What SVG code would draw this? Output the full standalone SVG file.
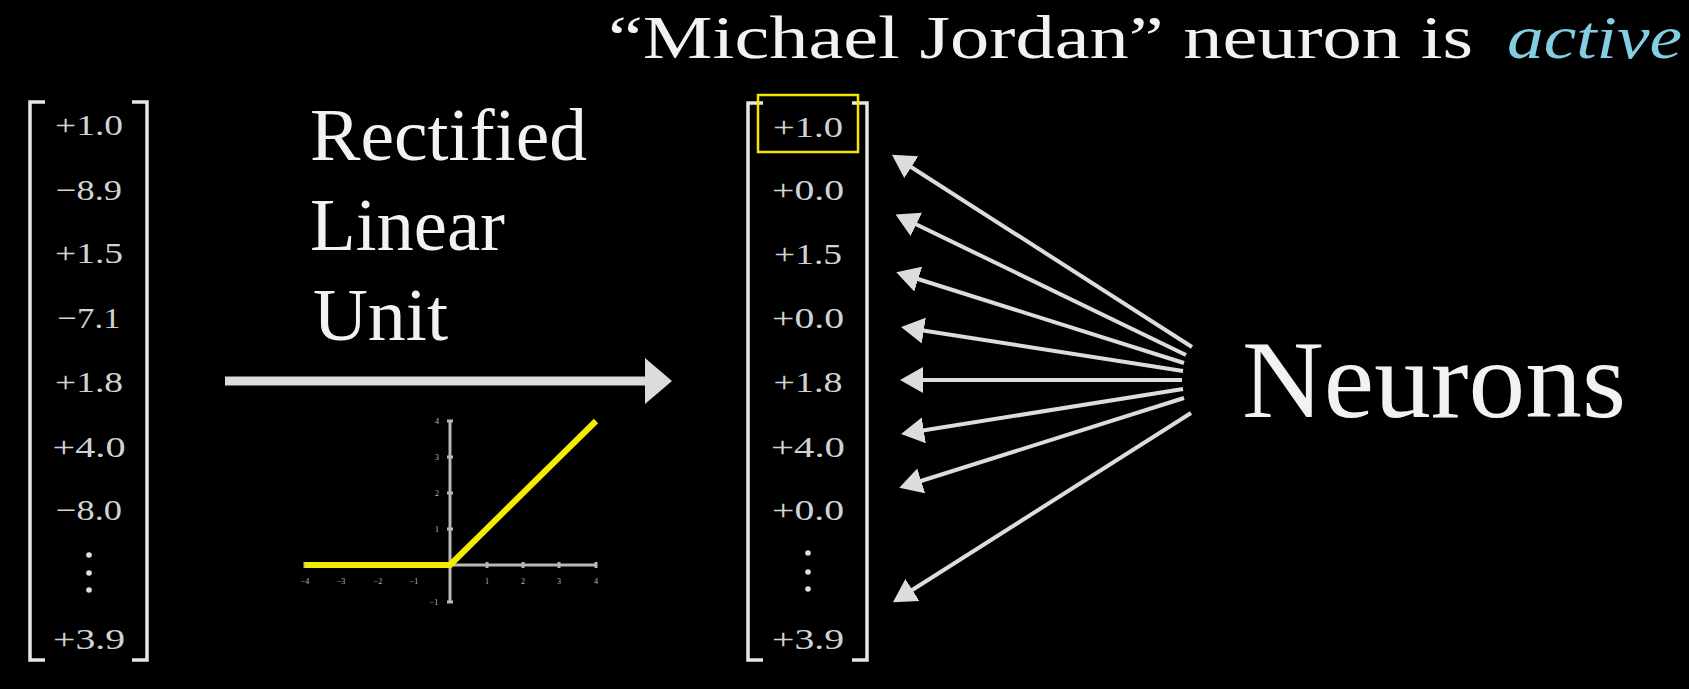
<svg xmlns="http://www.w3.org/2000/svg" width="1689" height="689" viewBox="0 0 1689 689">
<style>
.num{font-family:"Liberation Serif",serif;font-size:30px;fill:#d2d2d2;text-anchor:middle}
.brk{fill:none;stroke:#e6e6e6;stroke-width:3.5}
.big{font-family:"Liberation Serif",serif;fill:#f2f2f2}
.axis{stroke:#b8b8b8;stroke-width:3;fill:none}
.tick{stroke:#b8b8b8;stroke-width:3}
.tl{font-family:"Liberation Serif",serif;font-size:8px;fill:#bbbbbb;text-anchor:middle}
.fan{stroke:#dcdcdc;stroke-width:4;fill:none;marker-end:url(#head)}
.dot{fill:#e0e0e0}
</style>
<defs>
<marker id="head" markerUnits="userSpaceOnUse" markerWidth="24" markerHeight="28" refX="17" refY="13" orient="auto">
<path d="M0,0 L23,13 L0,26 Z" fill="#dcdcdc"/>
</marker>
</defs>
<rect width="1689" height="689" fill="#000"/>

<g id="title">
<text class="big" x="608" y="58" font-size="62" textLength="865" lengthAdjust="spacingAndGlyphs">“Michael Jordan” neuron is</text>
<text x="1507" y="58" font-family="Liberation Serif,serif" font-size="62" font-style="italic" fill="#85cde3" textLength="175" lengthAdjust="spacingAndGlyphs">active</text>
</g>

<g id="input-vector">
<path class="brk" d="M45,102 H30 V660 H45"/>
<path class="brk" d="M132,102 H147 V660 H132"/>
<text class="num" x="89" y="135" textLength="68" lengthAdjust="spacingAndGlyphs">+1.0</text>
<text class="num" x="89" y="200" textLength="66" lengthAdjust="spacingAndGlyphs">−8.9</text>
<text class="num" x="89" y="263" textLength="68" lengthAdjust="spacingAndGlyphs">+1.5</text>
<text class="num" x="89" y="328" textLength="63" lengthAdjust="spacingAndGlyphs">−7.1</text>
<text class="num" x="89" y="392" textLength="68" lengthAdjust="spacingAndGlyphs">+1.8</text>
<text class="num" x="89" y="457" textLength="73" lengthAdjust="spacingAndGlyphs">+4.0</text>
<text class="num" x="89" y="520" textLength="66" lengthAdjust="spacingAndGlyphs">−8.0</text>
<circle class="dot" cx="89" cy="555" r="2.8"/>
<circle class="dot" cx="89" cy="573" r="2.8"/>
<circle class="dot" cx="89" cy="590" r="2.8"/>
<text class="num" x="89" y="649" textLength="72" lengthAdjust="spacingAndGlyphs">+3.9</text>
</g>

<g id="relu-label">
<text class="big" x="310" y="160" font-size="74" textLength="277" lengthAdjust="spacingAndGlyphs">Rectified</text>
<text class="big" x="310" y="250" font-size="74" textLength="195" lengthAdjust="spacingAndGlyphs">Linear</text>
<text class="big" x="313" y="340" font-size="74" textLength="135" lengthAdjust="spacingAndGlyphs">Unit</text>
</g>

<g id="relu-graph">
<line class="axis" x1="305" y1="565" x2="596" y2="565"/>
<line class="axis" x1="450" y1="421" x2="450" y2="602"/>
<path class="tick" d="M305,562V568 M341,562V568 M378,562V568 M414,562V568 M487,562V568 M523,562V568 M559,562V568 M596,562V568"/>
<path class="tick" d="M447,421H453 M447,457H453 M447,493H453 M447,529H453 M447,602H453"/>
<text class="tl" x="305" y="584">−4</text>
<text class="tl" x="341" y="584">−3</text>
<text class="tl" x="378" y="584">−2</text>
<text class="tl" x="414" y="584">−1</text>
<text class="tl" x="487" y="584">1</text>
<text class="tl" x="523" y="584">2</text>
<text class="tl" x="559" y="584">3</text>
<text class="tl" x="596" y="584">4</text>
<text class="tl" x="437" y="424">4</text>
<text class="tl" x="437" y="460">3</text>
<text class="tl" x="437" y="496">2</text>
<text class="tl" x="437" y="532">1</text>
<text class="tl" x="434" y="605">−1</text>
<polyline points="305,565 450,565 596,421" fill="none" stroke="#f4ec00" stroke-width="6" stroke-linejoin="round"/>
</g>

<g id="output-vector">
<path class="brk" d="M763,103 H748 V660 H763"/>
<path class="brk" d="M852,103 H867 V660 H852"/>
<text class="num" x="808" y="137" textLength="70" lengthAdjust="spacingAndGlyphs">+1.0</text>
<text class="num" x="808" y="200" textLength="72" lengthAdjust="spacingAndGlyphs">+0.0</text>
<text class="num" x="808" y="264" textLength="68" lengthAdjust="spacingAndGlyphs">+1.5</text>
<text class="num" x="808" y="328" textLength="72" lengthAdjust="spacingAndGlyphs">+0.0</text>
<text class="num" x="808" y="392" textLength="69" lengthAdjust="spacingAndGlyphs">+1.8</text>
<text class="num" x="808" y="457" textLength="74" lengthAdjust="spacingAndGlyphs">+4.0</text>
<text class="num" x="808" y="520" textLength="72" lengthAdjust="spacingAndGlyphs">+0.0</text>
<circle class="dot" cx="808" cy="553" r="2.8"/>
<circle class="dot" cx="808" cy="572" r="2.8"/>
<circle class="dot" cx="808" cy="589" r="2.8"/>
<text class="num" x="808" y="649" textLength="72" lengthAdjust="spacingAndGlyphs">+3.9</text>
<rect x="758" y="95" width="100" height="57" fill="none" stroke="#f0e600" stroke-width="2.5"/>
</g>

<g id="neurons">
<text class="big" x="1242" y="417" font-size="110" textLength="384" lengthAdjust="spacingAndGlyphs">Neurons</text>
</g>

<g id="connectors">
<line x1="225" y1="381" x2="647" y2="381" stroke="#dcdcdc" stroke-width="9"/>
<polygon points="645,358 672,381 645,404" fill="#dcdcdc"/>
<line class="fan" x1="1192" y1="347" x2="897" y2="158"/>
<line class="fan" x1="1186" y1="355" x2="901" y2="217"/>
<line class="fan" x1="1184" y1="363" x2="902" y2="274"/>
<line class="fan" x1="1183" y1="371" x2="907" y2="328"/>
<line class="fan" x1="1182" y1="380" x2="906" y2="380"/>
<line class="fan" x1="1183" y1="389" x2="907" y2="433"/>
<line class="fan" x1="1184" y1="398" x2="905" y2="486"/>
<line class="fan" x1="1191" y1="413" x2="898" y2="599"/>
</g>
</svg>
